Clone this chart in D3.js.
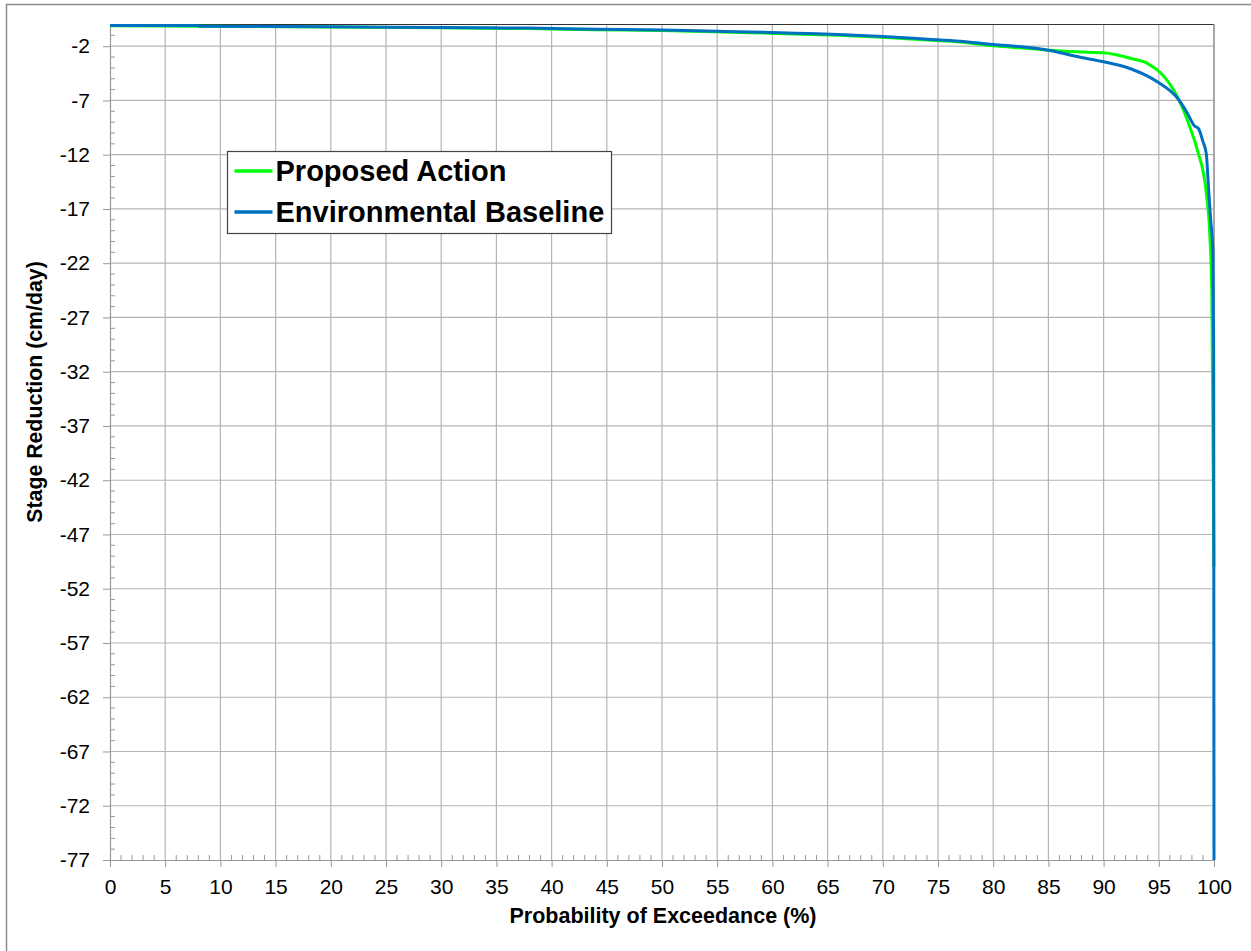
<!DOCTYPE html>
<html>
<head>
<meta charset="utf-8">
<script src="https://cdn.jsdelivr.net/npm/d3@7"></script>
<style>
  body { margin: 0; background: #fff; }
  text { font-family: "Liberation Sans", Arial, sans-serif; }
</style>
</head>
<body>
<div id="my_dataviz"></div>
<script>
// exceedance probability (%) and stage reduction (cm/day)
var baselineProb = [0, 8, 8.1, 20, 30, 38, 44, 50, 54, 58, 62, 66, 70, 74, 77, 80, 83, 85, 87.7, 90, 92.5, 94.9, 96.7, 97.6, 98.2, 98.6, 99.0, 99.3, 99.5, 99.7, 99.9, 99.97, 100];
var baselineVals = [-0.1, -0.1, -0.15, -0.2, -0.28, -0.33, -0.43, -0.5, -0.6, -0.68, -0.8, -0.92, -1.1, -1.35, -1.55, -1.85, -2.1, -2.37, -2.98, -3.44, -4.1, -5.3, -6.8, -8.2, -9.3, -9.6, -10.8, -11.9, -15.0, -18, -21, -30, -77];

var proposedProb = [0, 20, 30, 38, 44, 50, 54, 58, 62, 66, 70, 74, 77, 80, 83, 85, 87.7, 90, 92.5, 94, 95.2, 96.7, 97.9, 98.5, 99.3, 99.6, 99.8, 100];
var proposedVals = [-0.12, -0.22, -0.3, -0.38, -0.48, -0.55, -0.65, -0.75, -0.88, -1.0, -1.18, -1.42, -1.62, -1.97, -2.2, -2.37, -2.52, -2.61, -3.13, -3.6, -4.5, -6.7, -9.7, -11.6, -15.5, -19, -24.5, -50];

var seriesNames = ["Proposed Action", "Environmental Baseline"];
var seriesColors = ["#00ff00", "#0070c0"];

var xTicks = d3.range(0, 101, 5);
var yTicks = d3.range(-77, 0, 5);

var W = 1251, H = 951;
var margin = {top: 24.5, right: 37, bottom: 91, left: 110};
var width = W - margin.left - margin.right,
    height = H - margin.top - margin.bottom;

var root = d3.select("#my_dataviz").append("svg")
    .attr("width", W).attr("height", H);

// outer chart border
root.append("rect")
    .attr("x", 6.5).attr("y", 4.5)
    .attr("width", W + 10).attr("height", H + 10)
    .attr("fill", "none").attr("stroke", "#8c8c8c").attr("stroke-width", 1.5);

var svg = root.append("g")
    .attr("transform", "translate(" + margin.left + "," + margin.top + ")");

var x = d3.scaleLinear().domain([0, 100]).range([0, width]);
var y = d3.scaleLinear().domain([-77, 0]).range([height, 0]);

// grid
svg.append("g").selectAll("line").data(xTicks.slice(1))
    .enter().append("line")
    .attr("x1", function(d) { return x(d); }).attr("x2", function(d) { return x(d); })
    .attr("y1", 0).attr("y2", height)
    .attr("stroke", "#b4b4b4").attr("stroke-width", 1.2);
svg.append("g").selectAll("line").data(yTicks.slice(1))
    .enter().append("line")
    .attr("y1", function(d) { return y(d); }).attr("y2", function(d) { return y(d); })
    .attr("x1", 0).attr("x2", width)
    .attr("stroke", "#b4b4b4").attr("stroke-width", 1.2);

// plot borders
svg.append("line").attr("x1", 0).attr("x2", width).attr("y1", 0).attr("y2", 0)
    .attr("stroke", "#333").attr("stroke-width", 1.2);
svg.append("line").attr("x1", width).attr("x2", width).attr("y1", 0).attr("y2", height)
    .attr("stroke", "#999").attr("stroke-width", 1.5);

// minor ticks (inside)
svg.append("g").selectAll("line").data(d3.range(0, 101, 1).filter(function(d) { return d % 5 !== 0; }))
    .enter().append("line")
    .attr("x1", function(d) { return x(d); }).attr("x2", function(d) { return x(d); })
    .attr("y1", height).attr("y2", height - 5)
    .attr("stroke", "#999");
svg.append("g").selectAll("line").data(d3.range(-76, 0, 1).filter(function(d) { return (d + 77) % 5 !== 0; }))
    .enter().append("line")
    .attr("y1", function(d) { return y(d); }).attr("y2", function(d) { return y(d); })
    .attr("x1", 0).attr("x2", 5)
    .attr("stroke", "#999");

// axes
var plain = function(d) { return String(d); };
var xAxis = svg.append("g")
    .attr("transform", "translate(0," + height + ")")
    .call(d3.axisBottom(x).tickValues(xTicks).tickFormat(plain).tickSize(7).tickPadding(12).tickSizeOuter(0));
var yAxis = svg.append("g")
    .call(d3.axisLeft(y).tickValues(yTicks).tickFormat(plain).tickSize(7).tickPadding(13).tickSizeOuter(0));

[xAxis, yAxis].forEach(function(a) {
    a.select(".domain").attr("stroke", "#999").attr("stroke-width", 1.2);
    a.selectAll(".tick line").attr("stroke", "#999");
    a.selectAll(".tick text")
        .attr("font-family", "Liberation Sans, Arial, sans-serif")
        .attr("font-size", 21).attr("fill", "#000");
});

// lines
var line = d3.line()
    .curve(d3.curveMonotoneX)
    .x(function(d) { return x(d[0]); })
    .y(function(d) { return y(d[1]); });

var proposed = d3.zip(proposedProb, proposedVals);
var baseline = d3.zip(baselineProb, baselineVals);

svg.append("path").datum(proposed)
    .attr("d", line).attr("fill", "none")
    .attr("stroke", seriesColors[0]).attr("stroke-width", 3);
svg.append("path").datum(baseline)
    .attr("d", line).attr("fill", "none")
    .attr("stroke", seriesColors[1]).attr("stroke-width", 3);

// axis titles
root.append("text")
    .attr("x", 663).attr("y", 923)
    .attr("text-anchor", "middle")
    .attr("font-weight", "bold").attr("font-size", 21.5)
    .text("Probability of Exceedance (%)");
root.append("text")
    .attr("transform", "translate(42,392) rotate(-90)")
    .attr("text-anchor", "middle")
    .attr("font-weight", "bold").attr("font-size", 21.3)
    .text("Stage Reduction (cm/day)");

// legend
var legend = root.append("g").attr("transform", "translate(227.5,151.5)");
legend.append("rect")
    .attr("width", 384).attr("height", 82)
    .attr("fill", "#fff").attr("stroke", "#444").attr("stroke-width", 1.2);
var items = legend.selectAll("g.item").data(seriesNames)
    .enter().append("g")
    .attr("transform", function(d, i) { return "translate(0," + (19.5 + i * 41) + ")"; });
items.append("line")
    .attr("x1", 7).attr("x2", 45).attr("y1", 0).attr("y2", 0)
    .attr("stroke", function(d, i) { return seriesColors[i]; })
    .attr("stroke-width", 3.5);
items.append("text")
    .attr("x", 48).attr("y", 9.5)
    .attr("font-weight", "bold").attr("font-size", 29)
    .text(function(d) { return d; });
</script>
</body>
</html>
